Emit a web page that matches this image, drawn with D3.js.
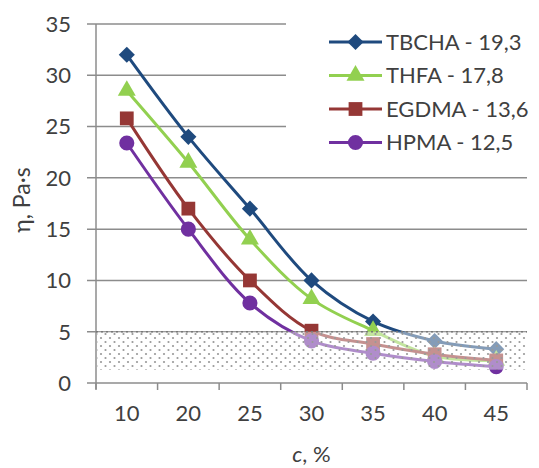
<!DOCTYPE html>
<html>
<head>
<meta charset="utf-8">
<script src="https://cdn.jsdelivr.net/npm/d3@7"></script>
<style>
  body { margin: 0; background: #fff; }
  svg { font-family: Lato, "Open Sans", sans-serif; }
</style>
</head>
<body>
<script>
// data
const categories = ["10", "20", "25", "30", "35", "40", "45"];
const seriesNames = ["TBCHA - 19,3", "THFA - 17,8", "EGDMA - 13,6", "HPMA - 12,5"];
const tbcha = [32, 24, 17, 10, 6, 4.1, 3.3];
const thfa  = [28.5, 21.5, 14, 8.2, 5.1, 2.6, 2.2];
const egdma = [25.8, 17, 10, 5.1, 3.8, 2.8, 2.2];
const hpma  = [23.4, 15, 7.8, 4.1, 2.9, 2.1, 1.6];
const yTicks = [0, 5, 10, 15, 20, 25, 30, 35];
const zone = [1.3, 5]; // shaded band

const colors = ["#1f4a7e", "#92d050", "#953735", "#7030a0"];
const markers = [d3.symbolSquare, d3.symbolTriangle, d3.symbolSquare, d3.symbolCircle];
const markerSize = [130, 140, 190, 180];
const markerRot = [45, 0, 0, 0];
const allSeries = [tbcha, thfa, egdma, hpma];

const width = 539, height = 468;
const margin = {left: 96, right: 12, top: 24, bottom: 85};

const svg = d3.select("body").append("svg")
    .attr("width", width)
    .attr("height", height);

const x = d3.scaleBand()
    .domain(categories)
    .range([margin.left, width - margin.right]);

const y = d3.scaleLinear()
    .domain([0, 35])
    .range([height - margin.bottom, margin.top]);

// pattern for the shaded band
const defs = svg.append("defs");
const pat = defs.append("pattern")
    .attr("id", "dots")
    .attr("patternUnits", "userSpaceOnUse")
    .attr("width", 9).attr("height", 8);
pat.append("rect").attr("width", 9).attr("height", 8).attr("fill", "#fff").attr("fill-opacity", 0.45);
pat.append("circle").attr("cx", 2).attr("cy", 2).attr("r", 1.1).attr("fill", "#999");
pat.append("circle").attr("cx", 6.5).attr("cy", 6).attr("r", 1.1).attr("fill", "#999");

// grid lines
svg.append("g")
  .selectAll("line")
  .data(yTicks)
  .join("line")
    .attr("x1", margin.left - 9)
    .attr("x2", width - margin.right)
    .attr("y1", d => y(d))
    .attr("y2", d => y(d))
    .attr("stroke", "#8c8c8c")
    .attr("stroke-width", 1.5);

// legend background hides the grid behind it
svg.append("rect")
    .attr("x", 286).attr("y", 18)
    .attr("width", width - 286).attr("height", 142)
    .attr("fill", "#fff");

// y axis line
svg.append("line")
    .attr("x1", margin.left).attr("x2", margin.left)
    .attr("y1", y(35)).attr("y2", y(0) + 6)
    .attr("stroke", "#8c8c8c").attr("stroke-width", 1.5);

// x ticks at band edges
const edges = categories.map(c => x(c)).concat([x.range()[1]]);
svg.append("g")
  .selectAll("line")
  .data(edges)
  .join("line")
    .attr("x1", d => d).attr("x2", d => d)
    .attr("y1", y(0)).attr("y2", y(0) + 7)
    .attr("stroke", "#8c8c8c").attr("stroke-width", 1.5);

// y labels
svg.append("g")
  .selectAll("text")
  .data(yTicks)
  .join("text")
    .attr("x", 71)
    .attr("y", d => y(d))
    .attr("dy", "0.36em")
    .attr("text-anchor", "end")
    .attr("font-size", 22)
    .attr("fill", "#404040")
    .text(d => d);

// x labels
svg.append("g")
  .selectAll("text")
  .data(categories)
  .join("text")
    .attr("x", d => x(d) + x.bandwidth() / 2)
    .attr("y", y(0) + 38)
    .attr("text-anchor", "middle")
    .attr("font-size", 22)
    .attr("fill", "#404040")
    .text(d => d);

// axis titles
const xt = svg.append("text")
    .attr("x", (x.range()[0] + x.range()[1]) / 2)
    .attr("y", 462)
    .attr("text-anchor", "middle")
    .attr("font-size", 22)
    .attr("fill", "#404040");
xt.append("tspan").attr("font-style", "italic").text("c");
xt.append("tspan").text(", %");

svg.append("text")
    .attr("transform", "translate(30,200) rotate(-90)")
    .attr("text-anchor", "middle")
    .attr("font-size", 23)
    .attr("fill", "#404040")
    .text("η, Pa·s");

// lines and markers
const line = d3.line()
    .x((d, i) => x(categories[i]) + x.bandwidth() / 2)
    .y(d => y(d))
    .curve(d3.curveCatmullRom.alpha(0.5));

allSeries.forEach((vals, k) => {
  svg.append("path")
      .attr("d", line(vals))
      .attr("fill", "none")
      .attr("stroke", colors[k])
      .attr("stroke-width", 3);
  svg.append("g")
    .selectAll("path")
    .data(vals)
    .join("path")
      .attr("transform", (d, i) => `translate(${x(categories[i]) + x.bandwidth() / 2},${y(d)}) rotate(${markerRot[k]})`)
      .attr("d", d3.symbol().type(markers[k]).size(markerSize[k]))
      .attr("fill", colors[k]);
});

// shaded band over the lines
svg.append("rect")
    .attr("x", margin.left + 1)
    .attr("y", y(zone[1]))
    .attr("width", x.range()[1] - margin.left - 1)
    .attr("height", y(zone[0]) - y(zone[1]))
    .attr("fill", "url(#dots)");
svg.append("line")
    .attr("x1", margin.left).attr("x2", x.range()[1])
    .attr("y1", y(zone[1])).attr("y2", y(zone[1]))
    .attr("stroke", "#777")
    .attr("stroke-width", 1.5)
    .attr("stroke-dasharray", "2,3");

// legend
const legend = svg.append("g");
seriesNames.forEach((name, k) => {
  const ly = 42 + k * 33.5;
  legend.append("line")
      .attr("x1", 329).attr("x2", 382)
      .attr("y1", ly).attr("y2", ly)
      .attr("stroke", colors[k]).attr("stroke-width", 3);
  legend.append("path")
      .attr("transform", `translate(355.5,${ly}) rotate(${markerRot[k]})`)
      .attr("d", d3.symbol().type(markers[k]).size(markerSize[k]))
      .attr("fill", colors[k]);
  legend.append("text")
      .attr("x", 386)
      .attr("y", ly)
      .attr("dy", "0.36em")
      .attr("font-size", 22)
      .attr("fill", "#404040")
      .text(name);
});
</script>
</body>
</html>
